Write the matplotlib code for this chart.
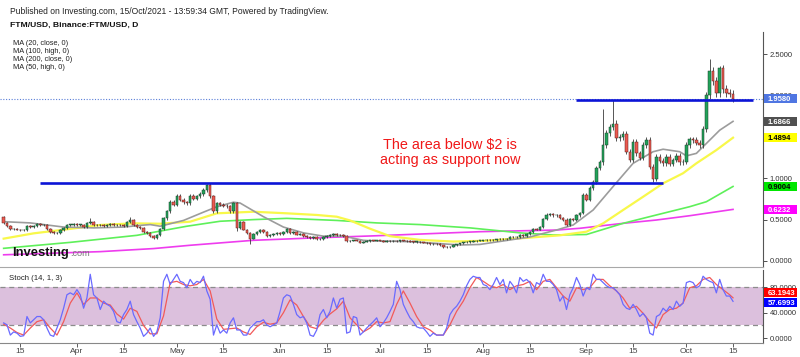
import matplotlib
matplotlib.use('Agg')
import matplotlib.pyplot as plt
from matplotlib.patches import Rectangle
import numpy as np
import pandas as pd

plt.rcParams['font.family'] = ['Liberation Sans', 'DejaVu Sans']

# ---------------- DATA ----------------
start_date = '2021-03-10'
first_open = 0.53
closes = [
    .455, .42, .385, .39, .38, .37, .375, .42, .415, .425,
    .445, .43, .435, .385, .355, .335, .34, .37, .395, .435,
    .44, .45, .435, .44, .405, .455, .475, .435, .43, .44,
    .425, .43, .445, .43, .435, .43, .425, .47, .49, .44,
    .41, .395, .355, .34, .30, .275, .31, .39, .515, .60,
    .715, .68, .79, .74, .71, .70, .79, .75, .78, .81,
    .86, .92, .78, .60, .70, .68, .67, .66, .60, .70,
    .40, .47, .38, .34, .27, .33, .35, .37, .35, .30,
    .31, .33, .34, .33, .35, .39, .34, .35, .32, .33,
    .30, .29, .28, .29, .26, .265, .29, .30, .31, .33,
    .315, .31, .30, .24, .245, .25, .245, .22, .235, .24,
    .25, .245, .25, .245, .235, .245, .24, .245, .24, .25,
    .245, .24, .235, .23, .232, .225, .22, .215, .20, .21,
    .205, .19, .17, .165, .175, .195, .20, .215, .225, .23,
    .235, .24, .245, .245, .25, .255, .25, .255, .26, .265,
    .26, .27, .29, .285, .29, .31, .305, .33, .35, .39,
    .38, .41, .51, .56, .565, .55, .55, .52, .50, .44,
    .51, .50, .55, .58, .80, .74, .88, .95, 1.12, 1.19,
    1.40, 1.55, 1.62, 1.66, 1.48, 1.50, 1.54, 1.32, 1.22, 1.44,
    1.30, 1.25, 1.40, 1.46, 1.14, .99, 1.26, 1.21, 1.18, 1.26,
    1.17, 1.22, 1.27, 1.19, 1.20, 1.40, 1.47, 1.46, 1.43, 1.40,
    1.60, 2.00, 2.29, 2.17, 2.03, 2.33, 2.08, 2.03, 2.02, 1.958,
]
special_highs = {'2021-04-05': .515, '2021-04-17': .535, '2021-05-10': .935,
                 '2021-09-06': 1.83, '2021-09-09': 1.95, '2021-10-08': 2.44,
                 '2021-10-11': 2.36, '2021-10-12': 2.37}
special_lows = {'2021-05-19': .36, '2021-05-23': .20, '2021-09-21': .95}

ma20_dates = ['2021-03-10', '2021-03-18', '2021-03-28', '2021-04-06', '2021-04-15', '2021-04-20',
              '2021-04-23', '2021-04-26', '2021-05-03', '2021-05-09', '2021-05-13', '2021-05-18',
              '2021-05-20', '2021-05-27', '2021-06-02', '2021-06-08', '2021-06-14', '2021-06-20',
              '2021-06-26', '2021-06-28', '2021-07-10', '2021-07-18', '2021-07-25', '2021-07-31',
              '2021-08-09', '2021-08-15', '2021-08-21', '2021-08-23', '2021-08-28', '2021-09-03',
              '2021-09-09', '2021-09-15', '2021-09-21', '2021-09-24', '2021-09-29', '2021-10-01',
              '2021-10-04', '2021-10-07', '2021-10-11', '2021-10-15']
ma20_vals = [.475, .46, .41, .40, .41, .43, .44, .42, .49, .59, .655, .71, .70, .535, .41, .34,
             .30, .30, .25, .245, .233, .213, .193, .20, .254, .29, .354, .374, .435, .616, .90,
             1.18, 1.32, 1.35, 1.32, 1.27, 1.30, 1.42, 1.58, 1.6866]

ma50_dates = ['2021-03-10', '2021-03-19', '2021-03-29', '2021-04-08', '2021-04-18', '2021-04-26',
              '2021-05-05', '2021-05-13', '2021-05-24', '2021-06-03', '2021-06-12', '2021-06-18',
              '2021-06-22', '2021-06-28', '2021-07-04', '2021-07-13', '2021-07-23', '2021-08-02',
              '2021-08-12', '2021-08-24', '2021-09-01', '2021-09-06', '2021-09-12', '2021-09-18',
              '2021-09-24', '2021-09-30', '2021-10-04', '2021-10-10', '2021-10-15']
ma50_vals = [.27, .334, .383, .435, .455, .45, .475, .576, .595, .576, .556, .535, .49, .39, .30,
             .255, .235, .245, .274, .31, .354, .455, .616, .776, .938, 1.06, 1.18, 1.34, 1.4894]

ma100_dates = ['2021-03-10', '2021-03-30', '2021-04-19', '2021-05-04', '2021-05-14', '2021-05-24',
               '2021-06-03', '2021-06-18', '2021-06-30', '2021-07-13', '2021-07-28', '2021-08-12',
               '2021-08-22', '2021-09-01', '2021-09-12', '2021-09-22', '2021-10-02', '2021-10-07',
               '2021-10-15']
ma100_vals = [.153, .225, .31, .42, .48, .50, .515, .49, .46, .44, .40, .34, .314, .32, .455,
              .556, .656, .716, .9004]

ma200_dates = ['2021-03-10', '2021-04-08', '2021-04-24', '2021-05-05', '2021-05-24', '2021-06-12',
               '2021-06-30', '2021-07-31', '2021-08-23', '2021-08-30', '2021-09-12', '2021-09-22',
               '2021-10-02', '2021-10-15']
ma200_vals = [.075, .113, .15, .19, .25, .28, .305, .354, .374, .395, .455, .495, .547, .6232]

support_levels = [0.94, 1.94]
support_starts = ['2021-03-21', '2021-08-29']
support_ends = ['2021-09-24', '2021-10-21']
last_price = 1.958

stoch_k = [
    24, 21, 5, 10, 8, 3, 4, 34, 24, 29,
    34, 34, 29, 16, 5, 3, 16, 29, 47, 68,
    71, 68, 76, 68, 47, 63, 100, 68, 63, 45,
    58, 53, 50, 42, 26, 24, 37, 45, 58, 37,
    26, 16, 3, 8, 16, 3, 10, 32, 89, 100,
    84, 92, 100, 89, 87, 79, 92, 84, 89, 87,
    97, 74, 61, 5, 21, 8, 13, 8, 24, 32,
    13, 13, 5, 5, 16, 21, 26, 26, 29, 21,
    18, 21, 24, 42, 63, 68, 66, 53, 37, 32,
    34, 24, 5, 3, 13, 37, 45, 32, 42, 63,
    47, 61, 63, 8, 10, 34, 32, 5, 10, 16,
    21, 26, 32, 18, 24, 32, 42, 53, 89, 76,
    53, 42, 32, 26, 18, 16, 16, 10, 3, 8,
    5, 5, 5, 16, 37, 45, 50, 58, 68, 82,
    92, 97, 95, 95, 84, 82, 76, 84, 95, 84,
    92, 71, 89, 82, 71, 95, 89, 92, 87, 71,
    87, 84, 100, 89, 89, 84, 76, 58, 66, 45,
    68, 79, 95, 84, 66, 79, 76, 100, 92, 92,
    87, 82, 79, 79, 74, 68, 53, 47, 45, 53,
    45, 34, 39, 32, 8, 5, 34, 37, 47, 42,
    50, 45, 58, 50, 55, 87, 89, 87, 79, 82,
    97, 92, 89, 87, 71, 92, 76, 66, 66, 57.6993,
]
# %D sampled every two days from start, plus the last day
stoch_d = [
    22, 16, 9, 5, 16, 26, 29, 16, 5, 26,
    55, 71, 53, 63, 63, 55, 52, 38, 30, 47,
    42, 20, 7, 7, 35, 87, 89, 84, 82, 84,
    92, 74, 30, 14, 15, 16, 10, 6, 18, 25,
    22, 24, 40, 60, 52, 34, 18, 15, 28, 38,
    46, 58, 32, 21, 10, 16, 26, 24, 26, 53,
    74, 55, 34, 18, 13, 5, 5, 21, 42, 58,
    79, 95, 89, 82, 79, 84, 76, 82, 84, 89,
    76, 89, 92, 79, 66, 58, 79, 76, 79, 92,
    92, 82, 74, 63, 47, 50, 39, 26, 16, 37,
    45, 47, 55, 79, 82, 92, 95, 84, 76, 68,
    63.1943,
]

price_ticks = [0.0, 0.5, 1.0, 2.0, 2.5]
stoch_ticks = [0, 40, 80]
xtick_dates = ['2021-03-15', '2021-04-01', '2021-04-15', '2021-05-01', '2021-05-15',
               '2021-06-01', '2021-06-15', '2021-07-01', '2021-07-15', '2021-08-01',
               '2021-08-15', '2021-09-01', '2021-09-15', '2021-10-01', '2021-10-15']
xtick_labels = ['15', 'Apr', '15', 'May', '15', 'Jun', '15', 'Jul', '15', 'Aug',
                '15', 'Sep', '15', 'Oct', '15']

# ---------------- HELPERS ----------------
t0 = pd.Timestamp(start_date)


def dx(dates):
    return np.array([(pd.Timestamp(d) - t0).days for d in dates], dtype=float)


W, H = 800, 357
fig = plt.figure(figsize=(W / 100, H / 100), dpi=100)
fig.patch.set_facecolor('white')

AXW = 763
ax = fig.add_axes([0, 1 - 267 / H, AXW / W, (267 - 32) / H])
ax2 = fig.add_axes([0, 1 - 342.7 / H, AXW / W, (342.7 - 270) / H])

XL = (-1.1, 228.0)

# ---------------- CANDLES ----------------
n = len(closes)
xs = np.arange(n, dtype=float)
c = np.array(closes)
o = np.array([first_open] + closes[:-1])
hi = np.maximum(o, c) * 1.02 + 0.004
lo = np.minimum(o, c) * 0.98 - 0.004
for d, v in special_highs.items():
    hi[int(dx([d])[0])] = v
for d, v in special_lows.items():
    lo[int(dx([d])[0])] = v

up = c >= o
ax.vlines(xs, lo, hi, color='#3a3a3a', lw=0.6, zorder=3)
bot = np.minimum(o, c)
hgt = np.maximum(np.abs(c - o), 0.006)
ax.bar(xs[up], hgt[up], bottom=bot[up], width=0.75, color='#22a35a', edgecolor='#1d3d2a',
       linewidth=0.35, zorder=4)
ax.bar(xs[~up], hgt[~up], bottom=bot[~up], width=0.75, color='#ec5a50', edgecolor='#5a1f1c',
       linewidth=0.35, zorder=4)

# ---------------- MOVING AVERAGES ----------------
ax.plot(dx(ma200_dates), ma200_vals, color='#ee3cee', lw=1.2, zorder=2)
ax.plot(dx(ma100_dates), ma100_vals, color='#5ef05a', lw=1.2, zorder=2)
ax.plot(dx(ma50_dates), ma50_vals, color='#f8f84a', lw=1.6, zorder=2)
ax.plot(dx(ma20_dates), ma20_vals, color='#9c9c9c', lw=1.2, zorder=2)

# support lines and last price
for lvl, s, e in zip(support_levels, support_starts, support_ends):
    ax.plot(dx([s, e]), [lvl, lvl], color='#0c14d6', lw=1.9, zorder=6, solid_capstyle='butt')
ax.axhline(last_price, color='#5a7fd8', lw=0.8, ls=(0, (1, 1.5)), zorder=1)

ax.set_xlim(*XL)
ax.set_ylim(-0.0725, 2.766)
for s in ['left', 'top']:
    ax.spines[s].set_visible(False)
ax.spines['bottom'].set_color('#a8a8a8')
ax.spines['right'].set_color('#555555')
ax.spines['right'].set_linewidth(0.8)
ax.set_xticks([])
ax.yaxis.tick_right()
ax.set_yticks(price_ticks)
ax.set_yticklabels([f'{v:.4f}' for v in price_ticks])
ax.tick_params(axis='y', direction='out', length=3, pad=2, labelsize=5.5,
               colors='#333333', width=0.6)

# annotation
ax.text(dx(['2021-07-22'])[0], 1.31, 'The area below \\$2 is\nacting as support now',
        color='#f01818', fontsize=10.4, ha='center', va='center', linespacing=1.1, zorder=7)


def tag(axis, y, text, bg, fg, px_per_unit):
    h = 9.0 / px_per_unit
    tr = axis.get_yaxis_transform()
    axis.add_patch(Rectangle((1 + 1.0 / AXW, y - h / 2), 33.0 / AXW, h, transform=tr,
                             facecolor=bg, edgecolor='none', clip_on=False, zorder=10))
    axis.text(1 + 5.0 / AXW, y, text, transform=tr, ha='left', va='center_baseline',
              fontsize=5.5, color=fg, fontweight='bold', clip_on=False, zorder=11)


PPU_MAIN = 82.8
PPU_STOCH = 0.64
tag(ax, last_price, f'{last_price:.4f}', '#4f76e2', 'white', PPU_MAIN)
tag(ax, ma20_vals[-1], f'{ma20_vals[-1]:.4f}', '#505050', 'white', PPU_MAIN)
tag(ax, ma50_vals[-1], f'{ma50_vals[-1]:.4f}', '#ffff00', 'black', PPU_MAIN)
tag(ax, ma100_vals[-1], f'{ma100_vals[-1]:.4f}', '#00e600', 'black', PPU_MAIN)
tag(ax, ma200_vals[-1], f'{ma200_vals[-1]:.4f}', '#ff00ff', 'white', PPU_MAIN)

# ---------------- STOCH PANEL ----------------
ax2.axhspan(20, 80, color='#dcc0dd', zorder=0, lw=0)
ax2.axhline(80, color='#8c8c8c', lw=0.9, ls=(0, (4, 3)), zorder=1)
ax2.axhline(20, color='#8c8c8c', lw=0.9, ls=(0, (4, 3)), zorder=1)
ax2.plot(xs, stoch_k, color='#6a6aff', lw=0.9, zorder=3)
dxs = list(np.arange(0, 2 * (len(stoch_d) - 1), 2)) + [n - 1]
ax2.plot(dxs, stoch_d, color='#f25a5a', lw=0.9, zorder=2)
ax2.set_xlim(*XL)
ax2.set_ylim(-6.9, 106.7)
for s in ['left', 'top']:
    ax2.spines[s].set_visible(False)
ax2.spines['bottom'].set_color('#888888')
ax2.spines['right'].set_color('#555555')
ax2.spines['right'].set_linewidth(0.8)
ax2.yaxis.tick_right()
ax2.set_yticks(stoch_ticks)
ax2.set_yticklabels([f'{v:.4f}' for v in stoch_ticks])
ax2.tick_params(axis='y', direction='out', length=3, pad=2, labelsize=5.5,
                colors='#333333', width=0.6)
ax2.set_xticks(dx(xtick_dates))
ax2.set_xticklabels(xtick_labels)
ax2.tick_params(axis='x', direction='out', length=3, pad=0.5, labelsize=6.0,
                colors='#444444', width=0.6)
ax2.text(0.012, 0.93, 'Stoch (14, 1, 3)', transform=ax2.transAxes, fontsize=5.6,
         color='#222222', ha='left', va='top')
tag(ax2, 71.3, f'{stoch_d[-1]:.4f}', '#ff0000', 'white', PPU_STOCH)
tag(ax2, 56.0, f'{stoch_k[-1]:.4f}', '#0000ff', 'white', PPU_STOCH)

# ---------------- HEADER TEXT ----------------
fig.text(10 / W, 1 - 11.5 / H, 'Published on Investing.com, 15/Oct/2021 - 13:59:34 GMT, Powered by TradingView.',
         fontsize=6.15, color='#222222', ha='left', va='center')
fig.text(10 / W, 1 - 25 / H, 'FTM/USD, Binance:FTM/USD, D', fontsize=6.1, fontweight='bold',
         color='#111111', ha='left', va='center')
for i, lab in enumerate(['MA (20, close, 0)', 'MA (100, high, 0)', 'MA (200, close, 0)',
                         'MA (50, high, 0)']):
    fig.text(13 / W, 1 - (43.5 + 8 * i) / H, lab, fontsize=5.3, color='#222222',
             ha='left', va='center')

# logo
fig.text(12 / W, 1 - 256 / H, 'Investing', fontsize=9.4, fontweight='bold', color='#111111',
         ha='left', va='baseline')
fig.text(70.5 / W, 1 - 256 / H, '.com', fontsize=6.6, color='#777777', ha='left', va='baseline')

fig.savefig('out.png', dpi=100, facecolor='white')
